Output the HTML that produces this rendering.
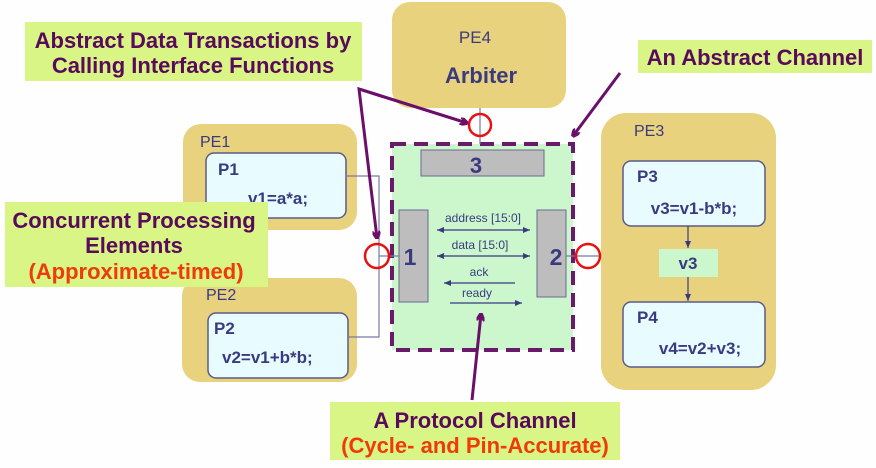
<!DOCTYPE html>
<html><head><meta charset="utf-8"><style>
html,body{margin:0;padding:0;background:#fff;}
svg{display:block;font-family:"Liberation Sans","DejaVu Sans",sans-serif;}
</style></head><body>
<svg width="876" height="468" viewBox="0 0 876 468" xmlns="http://www.w3.org/2000/svg">
<defs>
<marker id="pa" markerWidth="8" markerHeight="8" refX="7" refY="4" orient="auto" markerUnits="userSpaceOnUse"><path d="M0,0 L8,4 L0,8" fill="none" stroke="#6a0f6a" stroke-width="3"/></marker>
<marker id="ba" markerWidth="7" markerHeight="6" refX="7" refY="3" orient="auto-start-reverse" markerUnits="userSpaceOnUse"><path d="M0,0 L7,3 L0,6 Z" fill="#3a3a80"/></marker>
</defs>
<rect width="876" height="468" fill="#fefefe"/>
<!-- PE4 -->
<rect x="392" y="2" width="174" height="106" rx="18" fill="#e8d27e"/>
<text x="475" y="43" font-size="17" fill="#3a3a80" text-anchor="middle">PE4</text>
<text x="481" y="83" font-size="22" font-weight="bold" fill="#3a3a80" text-anchor="middle">Arbiter</text>
<!-- PE1 -->
<rect x="183" y="124" width="174" height="106" rx="18" fill="#e8d27e"/>
<text x="200" y="147" font-size="16" fill="#3a3a80">PE1</text>
<rect x="206" y="153" width="140" height="65" rx="8" fill="#e8fcff" stroke="#5a5a8a" stroke-width="1.5"/>
<text x="218" y="175" font-size="17" font-weight="bold" fill="#3a3a80">P1</text>
<text x="248" y="204" font-size="17" font-weight="bold" fill="#3a3a80">v1=a*a;</text>
<!-- PE2 -->
<rect x="182" y="278" width="175" height="104" rx="18" fill="#e8d27e"/>
<text x="206" y="300" font-size="16" fill="#3a3a80">PE2</text>
<rect x="208" y="313" width="140" height="65" rx="8" fill="#e8fcff" stroke="#5a5a8a" stroke-width="1.5"/>
<text x="214" y="334" font-size="17" font-weight="bold" fill="#3a3a80">P2</text>
<text x="222" y="363" font-size="17" font-weight="bold" fill="#3a3a80">v2=v1+b*b;</text>
<polyline points="346,176 379,176 379,337 348,337" fill="none" stroke="#7a7aa0" stroke-width="1.2"/>
<!-- PE3 -->
<rect x="601" y="113" width="175" height="277" rx="25" fill="#e8d27e"/>
<text x="634" y="136" font-size="16" fill="#3a3a80">PE3</text>
<rect x="623" y="161" width="142" height="65" rx="8" fill="#e8fcff" stroke="#5a5a8a" stroke-width="1.5"/>
<text x="637" y="182" font-size="17" font-weight="bold" fill="#3a3a80">P3</text>
<text x="694" y="214" font-size="17" font-weight="bold" fill="#3a3a80" text-anchor="middle">v3=v1-b*b;</text>
<rect x="659" y="249" width="59" height="28" fill="#ccf7cc"/>
<text x="688" y="269" font-size="17" font-weight="bold" fill="#3a3a80" text-anchor="middle">v3</text>
<line x1="688" y1="226" x2="688" y2="248" stroke="#3a3a80" stroke-width="1.2" marker-end="url(#ba)"/>
<line x1="688" y1="277" x2="688" y2="301" stroke="#3a3a80" stroke-width="1.2" marker-end="url(#ba)"/>
<rect x="623" y="302" width="142" height="65" rx="8" fill="#e8fcff" stroke="#5a5a8a" stroke-width="1.5"/>
<text x="637" y="323" font-size="17" font-weight="bold" fill="#3a3a80">P4</text>
<text x="700" y="354" font-size="17" font-weight="bold" fill="#3a3a80" text-anchor="middle">v4=v2+v3;</text>
<!-- channel -->
<rect x="392" y="144" width="181" height="206" fill="#ccf7cc" stroke="#6a1a6a" stroke-width="4" stroke-dasharray="14,8"/>
<rect x="421" y="150" width="123" height="26" fill="#bdbdbd" stroke="#6a6a90" stroke-width="1"/>
<text x="476" y="173" font-size="22" font-weight="bold" fill="#3a3a80" text-anchor="middle">3</text>
<rect x="399" y="210" width="29" height="92" fill="#bdbdbd" stroke="#6a6a90" stroke-width="1"/>
<rect x="537" y="210" width="29" height="87" fill="#bdbdbd" stroke="#6a6a90" stroke-width="1"/>
<text x="410" y="265" font-size="23" font-weight="bold" fill="#3a3a80" text-anchor="middle">1</text>
<text x="556" y="265" font-size="23" font-weight="bold" fill="#3a3a80" text-anchor="middle">2</text>
<text x="483" y="222" font-size="12" fill="#3a3a80" text-anchor="middle">address [15:0]</text>
<line x1="437" y1="230" x2="530" y2="230" stroke="#3a3a80" stroke-width="1.2" marker-start="url(#ba)" marker-end="url(#ba)"/>
<text x="480" y="249" font-size="12" fill="#3a3a80" text-anchor="middle">data [15:0]</text>
<line x1="437" y1="256" x2="530" y2="256" stroke="#3a3a80" stroke-width="1.2" marker-start="url(#ba)" marker-end="url(#ba)"/>
<text x="479" y="276" font-size="12" fill="#3a3a80" text-anchor="middle">ack</text>
<line x1="515" y1="283" x2="444" y2="283" stroke="#3a3a80" stroke-width="1.2" marker-end="url(#ba)"/>
<text x="477" y="297" font-size="12" fill="#3a3a80" text-anchor="middle">ready</text>
<line x1="450" y1="303" x2="522" y2="303" stroke="#3a3a80" stroke-width="1.2" marker-end="url(#ba)"/>
<!-- connection lines & circles -->
<line x1="379" y1="256" x2="399" y2="256" stroke="#7a7aa0" stroke-width="1.2"/>
<line x1="566" y1="256" x2="601" y2="256" stroke="#7a7aa0" stroke-width="1.2"/>
<line x1="480" y1="108" x2="480" y2="144" stroke="#7a7aa0" stroke-width="1.2"/>
<circle cx="480" cy="125" r="11" fill="none" stroke="#e81010" stroke-width="2.5"/>
<circle cx="377" cy="256" r="12" fill="none" stroke="#e81010" stroke-width="2.5"/>
<circle cx="588" cy="256" r="12" fill="none" stroke="#e81010" stroke-width="2.5"/>
<!-- callout arrows -->
<polyline points="467,123 359,89 377,238" fill="none" stroke="#6a0f6a" stroke-width="3" marker-end="url(#pa)"/>
<path d="M359,89 L467,123" fill="none" stroke="#6a0f6a" stroke-width="3" marker-end="url(#pa)"/>
<line x1="620" y1="73" x2="573" y2="136" stroke="#6a0f6a" stroke-width="3" marker-end="url(#pa)"/>
<line x1="472" y1="400" x2="481" y2="314" stroke="#6a0f6a" stroke-width="3" marker-end="url(#pa)"/>
<!-- labels -->
<rect x="25" y="22" width="337" height="59" fill="#d8f585"/>
<text x="193" y="48" font-size="22" font-weight="bold" fill="#5a0a5a" text-anchor="middle">Abstract Data Transactions by</text>
<text x="193" y="73" font-size="22" font-weight="bold" fill="#5a0a5a" text-anchor="middle">Calling Interface Functions</text>
<rect x="638" y="40" width="234" height="33" fill="#d8f585"/>
<text x="755" y="65" font-size="22" font-weight="bold" fill="#5a0a5a" text-anchor="middle">An Abstract Channel</text>
<rect x="5" y="202" width="263" height="85" fill="#d8f585"/>
<text x="134" y="228" font-size="22" font-weight="bold" fill="#5a0a5a" text-anchor="middle">Concurrent Processing</text>
<text x="134" y="253" font-size="22" font-weight="bold" fill="#5a0a5a" text-anchor="middle">Elements</text>
<text x="136" y="279" font-size="22" font-weight="bold" fill="#f03a0a" text-anchor="middle">(Approximate-timed)</text>
<rect x="330" y="402" width="290" height="58" fill="#d8f585"/>
<text x="475" y="428" font-size="22" font-weight="bold" fill="#5a0a5a" text-anchor="middle">A Protocol Channel</text>
<text x="475" y="453" font-size="22" font-weight="bold" fill="#f03a0a" text-anchor="middle">(Cycle- and Pin-Accurate)</text>
</svg>
</body></html>
